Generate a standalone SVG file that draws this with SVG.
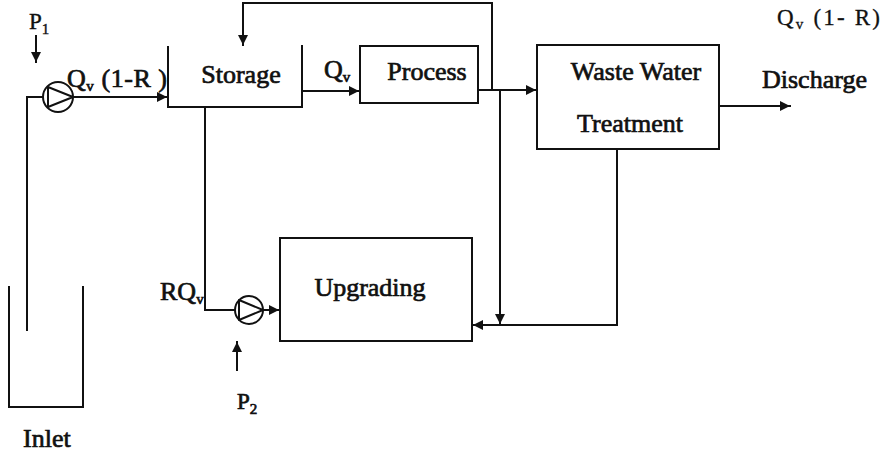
<svg xmlns="http://www.w3.org/2000/svg" width="883" height="453" viewBox="0 0 883 453">
<style>
.ln{fill:none;stroke:#111;stroke-width:2;stroke-linecap:square}
.box{fill:#fff;stroke:#111;stroke-width:2}
text{font-family:'Liberation Serif','Times New Roman',serif;font-weight:normal;font-size:26px;fill:#111;stroke:#111;stroke-width:0.7}
.c{text-anchor:middle}
.sub{font-size:15px}
</style>
<defs>
<marker id="ah" markerUnits="userSpaceOnUse" markerWidth="12" markerHeight="10" refX="10" refY="5" orient="auto">
<path d="M0,0 L10,5 L0,10 Z" fill="#111"/>
</marker>
</defs>
<rect width="883" height="453" fill="#fff"/>

<g id="connectors">
<polyline class="ln" points="27,330 27,97 43,97"/>
<line class="ln" x1="73" y1="97" x2="167" y2="97" marker-end="url(#ah)"/>
<line class="ln" x1="36" y1="36" x2="36" y2="62" marker-end="url(#ah)"/>
<line class="ln" x1="302" y1="91" x2="359" y2="91" marker-end="url(#ah)"/>
<line class="ln" x1="478" y1="90" x2="536" y2="90" marker-end="url(#ah)"/>
<polyline class="ln" points="492,90 492,3 243,3 243,45" marker-end="url(#ah)"/>
<line class="ln" x1="500" y1="92" x2="500" y2="324" marker-end="url(#ah)"/>
<line class="ln" x1="719" y1="106" x2="790" y2="106" marker-end="url(#ah)"/>
<polyline class="ln" points="617,149 617,325 473,325" marker-end="url(#ah)"/>
<polyline class="ln" points="205,107 205,310 235,310"/>
<line class="ln" x1="263" y1="310" x2="279" y2="310" marker-end="url(#ah)"/>
<line class="ln" x1="237" y1="370" x2="237" y2="342" marker-end="url(#ah)"/>
</g>

<g id="inlet">
<polyline class="ln" points="9,287 9,407 83,407 83,287"/>
<text x="23" y="447">Inlet</text>
</g>

<g id="pump1">
<circle cx="58" cy="97" r="15" fill="#fff" stroke="#111" stroke-width="2"/>
<polygon points="48,87 48,107 73,97" fill="none" stroke="#111" stroke-width="2" stroke-linejoin="round"/>
</g>

<g id="pump2">
<circle cx="249" cy="310" r="14" fill="#fff" stroke="#111" stroke-width="2"/>
<polygon points="239,300 239,320 263,310" fill="none" stroke="#111" stroke-width="2" stroke-linejoin="round"/>
</g>

<g id="storage">
<polyline class="ln" points="168,47 168,107 302,107 302,46"/>
<text class="c" x="241" y="83">Storage</text>
</g>

<g id="process">
<rect class="box" x="360" y="46" width="118" height="57"/>
<text class="c" x="427" y="80">Process</text>
</g>

<g id="wwt">
<rect class="box" x="537" y="45" width="182" height="104"/>
<text class="c" x="636" y="80">Waste Water</text>
<text class="c" x="630" y="132">Treatment</text>
</g>

<g id="upgrading">
<rect class="box" x="280" y="238" width="192" height="103"/>
<text class="c" x="370" y="296">Upgrading</text>
</g>

<g id="labels">
<text x="29" y="29" style="font-size:23px;stroke-width:0.4">P<tspan class="sub" dy="5">1</tspan></text>
<text x="67" y="87" textLength="100" lengthAdjust="spacing">Q<tspan class="sub" dy="4">v</tspan><tspan dy="-4"> (1-R )</tspan></text>
<text x="324" y="78">Q<tspan class="sub" dy="4">v</tspan></text>
<text x="777" y="25" style="font-size:23px;stroke-width:0.3" textLength="103" lengthAdjust="spacing">Q<tspan class="sub" dy="4">v</tspan><tspan dy="-4"> (1- R)</tspan></text>
<text x="762" y="88">Discharge</text>
<text x="160" y="300">RQ<tspan class="sub" dy="4">v</tspan></text>
<text x="237" y="409" style="font-size:23px">P<tspan class="sub" dy="5">2</tspan></text>
</g>
</svg>
